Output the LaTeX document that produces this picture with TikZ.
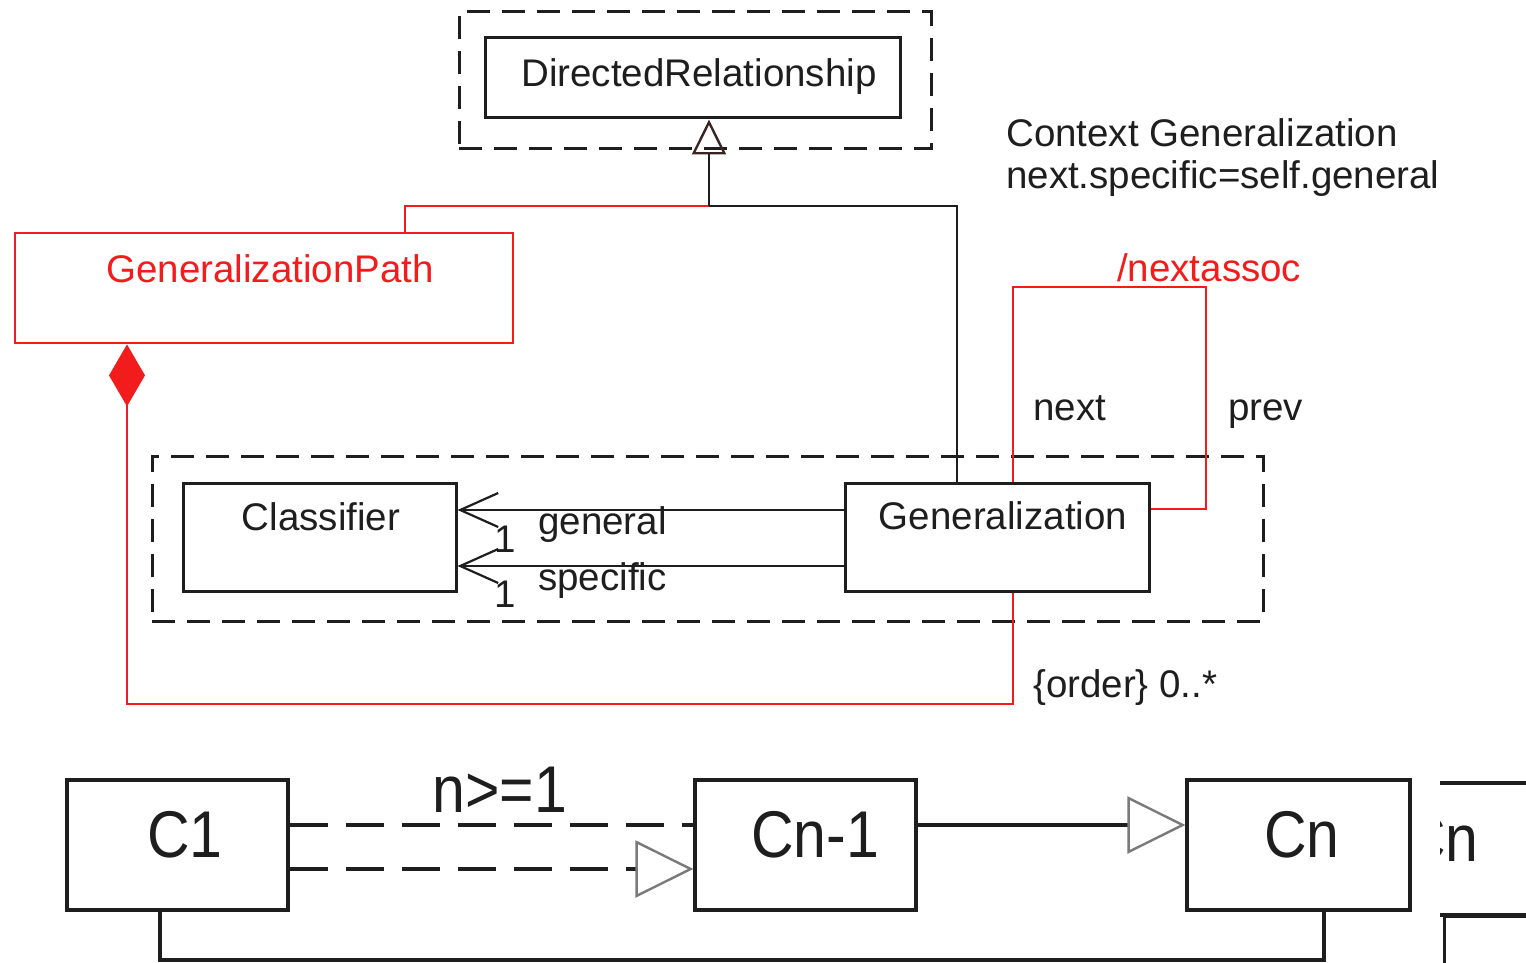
\documentclass[tikz,border=0pt]{standalone}
\usepackage{fontspec}
\usepackage{graphicx}
\setmainfont{Liberation Sans}
\usetikzlibrary{arrows.meta}
\definecolor{umlred}{HTML}{F21C1C}
\definecolor{ink}{HTML}{1E1E1E}
\definecolor{tipgray}{HTML}{7A7A7A}
\definecolor{tipdark}{HTML}{3A2424}

\begin{document}
\begin{tikzpicture}[x=1pt,y=-1pt,
  box/.style={draw=ink, line width=3pt, rectangle, inner sep=0pt},
  bigbox/.style={draw=ink, line width=3.2pt, rectangle, inner sep=0pt},
  redbox/.style={draw=umlred, line width=2.8pt, rectangle, inner sep=0pt},
  frame/.style={draw=ink, line width=3pt, rectangle, inner sep=0pt, dash pattern=on 23pt off 12pt},
  link/.style={draw=ink, line width=2.8pt},
  biglink/.style={draw=ink, line width=3.2pt},
  dashlink/.style={draw=ink, line width=3.2pt, dash pattern=on 38pt off 18pt},
  redlink/.style={draw=umlred, line width=2.8pt},
  lbl/.style={inner sep=0pt, anchor=base, font=\fontsize{38.5}{44}\selectfont, text=ink},
  redlbl/.style={lbl, text=umlred},
  biglbl/.style={inner sep=0pt, anchor=base, font=\fontsize{59}{66}\selectfont, text=ink},
  gentip/.style={-{Triangle[open, length=35pt, width=34pt, color=tipdark, line width=2.4pt]}},
  realtip/.style={-{Triangle[length=58pt, width=57pt, color=tipgray, fill=white, line width=2.4pt]}},
  navtip/.style={-{Straight Barb[length=38pt, width=34pt, line width=2.2pt]}},
  comptip/.style={{Diamond[length=62pt, width=36pt, color=umlred, fill=umlred]}-}
]
\useasboundingbox (0,0) rectangle (1526,963);

% ---------- upper model ----------
\node[frame, minimum width=472pt, minimum height=137pt] (ctxa) at (695,80.5) {};
\node[box, minimum width=415pt, minimum height=80pt] (dr) at (692.5,78) {};
\node[lbl] (drt) at (699,87) {DirectedRelationship};

\node[lbl, anchor=base west, align=left] (ctx) at (1006,188)
  {Context Generalization\\[-2pt]next.specific=self.general};

\node[redbox, minimum width=498pt, minimum height=110pt] (gp) at (264,288) {};
\node[redlbl] (gpt) at (270,282) {GeneralizationPath};

\node[frame, minimum width=1111pt, minimum height=165pt] (ctxb) at (707.5,538.5) {};
\node[box, minimum width=273pt, minimum height=108pt] (cls) at (319.5,537) {};
\node[lbl] (clst) at (321,530) {Classifier};
\node[box, minimum width=304pt, minimum height=108pt] (gen) at (997,537) {};
\node[lbl] (gent) at (1003,529) {Generalization};

% generalization hierarchy
\coordinate (jn) at (709,206);
\draw[redlink] (jn) -| ([xshift=141pt]gp.north);
\draw[link] (jn) -| ([xshift=-40pt]gen.north);
\draw[link, gentip] (jn) -- (jn |- dr.south);

% navigable ends towards Classifier
\draw[link, navtip] ([yshift=27pt]gen.west) -- ([yshift=27pt]cls.east);
\draw[link, navtip] ([yshift=-29pt]gen.west) -- ([yshift=-29pt]cls.east);
\node[lbl] (m1) at (505,552) {1};
\node[lbl] (m2) at (505,607) {1};
\node[lbl, anchor=base west] (rg) at (538,534) {general};
\node[lbl, anchor=base west] (rs) at (538,590) {specific};

% derived self association
\coordinate (loopc) at (1206,287);
\draw[redlink] ([xshift=16pt]gen.north) |- (loopc) |- ([yshift=28pt]gen.east);
\node[redlbl, anchor=base west] (na) at (1117,281) {/nextassoc};
\node[lbl, anchor=base west] (rn) at (1033,420) {next};
\node[lbl, anchor=base west] (rp) at (1228,420) {prev};

% composition of the path
\coordinate (aggc) at (127,704);
\draw[redlink, comptip] ([xshift=-137pt]gp.south) -- (aggc) -| ([xshift=16pt]gen.south);
\node[lbl, anchor=base west] (ord) at (1033,697) {\{order\} 0..*};

% ---------- lower chain ----------
\node[bigbox, minimum width=221pt, minimum height=130pt] (c1) at (177.5,845) {};
\node[biglbl] (c1t) at (185,857) {\scalebox{1}[1.12]{C1}};
\node[bigbox, minimum width=221pt, minimum height=130pt] (cn1) at (805.5,845) {};
\node[biglbl] (cn1t) at (815,857) {\scalebox{1}[1.12]{Cn-1}};
\node[bigbox, minimum width=223pt, minimum height=130pt] (cn) at (1298.5,845) {};
\node[biglbl] (cnt) at (1302,857) {\scalebox{1}[1.12]{Cn}};

\draw[dashlink] ([yshift=20pt]c1.east) -- ([yshift=20pt]cn1.west);
\draw[dashlink, realtip] ([yshift=-24pt]c1.east) -- ([yshift=-24pt]cn1.west);
\node[biglbl] (nge) at (500,812) {\scalebox{1}[1.12]{n>=1}};
\draw[biglink, realtip] ([yshift=20pt]cn1.east) -- ([yshift=20pt]cn.west);

\coordinate (retl) at (160,960);
\draw[biglink] ([xshift=-17.5pt]c1.south) -- (retl) -| ([xshift=25.5pt]cn.south);

% neighbouring boxes, cut at the edge
\begin{scope}
  \clip (1440,770) rectangle (1526,963);
  \node[bigbox, minimum width=223pt, minimum height=132pt] (cnb) at (1438,849) {};
  \node[biglbl] (cnbt) at (1441,861) {\scalebox{1}[1.12]{Cn}};
  \node[bigbox, anchor=north west, minimum width=200pt, minimum height=120pt] (cnc) at (1443,915) {};
\end{scope}
\end{tikzpicture}
\end{document}
